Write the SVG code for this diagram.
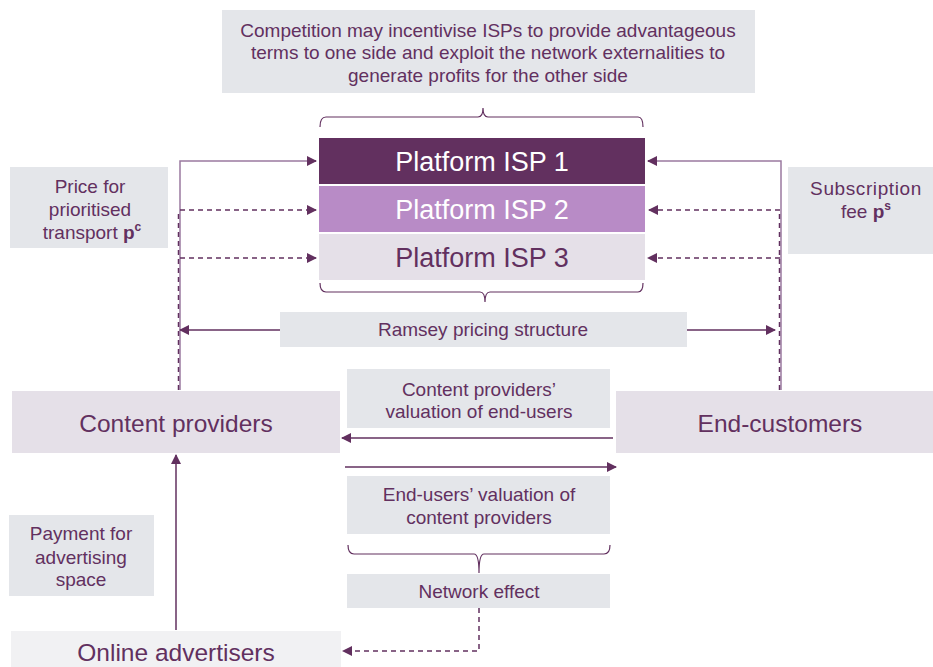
<svg xmlns="http://www.w3.org/2000/svg" width="933" height="667" viewBox="0 0 933 667">
  <defs>
    <marker id="arr" viewBox="0 0 10 10" refX="9" refY="5" markerWidth="10" markerHeight="10" markerUnits="userSpaceOnUse" orient="auto">
      <path d="M0,0 L10,5 L0,10 z" fill="#62305f"/>
    </marker>
    <style>
      text { font-family: "Liberation Sans", Arial, sans-serif; fill: #62305f; text-anchor: middle; }
      .lbl { fill: #e4e6ea; }
      .node { fill: #e5e0e8; }
      .t19 { font-size: 19px; }
      .t24 { font-size: 24.5px; }
      .t27 { font-size: 27px; }
      .line { stroke: #62305f; stroke-width: 1.5; fill: none; }
      .dash { stroke: #62305f; stroke-width: 1.5; stroke-dasharray: 5 4; fill: none; }
      .vline { stroke: #9a7aa0; stroke-width: 1.5; fill: none; }
      .brace { stroke: #62305f; stroke-width: 1.2; fill: none; }
    </style>
  </defs>
  <rect width="933" height="667" fill="#ffffff"/>

  <!-- Competition note -->
  <g id="competition">
    <rect class="lbl" x="222" y="10" width="533" height="83"/>
    <text class="t19" x="488" y="37">Competition may incentivise ISPs to provide advantageous</text>
    <text class="t19" x="488" y="59">terms to one side and exploit the network externalities to</text>
    <text class="t19" x="488" y="82">generate profits for the other side</text>
  </g>

  <!-- Platforms -->
  <g id="isp1">
    <rect x="319" y="138" width="326" height="46" fill="#62305f"/>
    <text class="t27" x="482" y="171" style="fill:#ffffff">Platform ISP 1</text>
  </g>
  <g id="isp2">
    <rect x="319" y="186" width="326" height="46" fill="#b88bc6"/>
    <text class="t27" x="482" y="219" style="fill:#ffffff">Platform ISP 2</text>
  </g>
  <g id="isp3">
    <rect x="319" y="234" width="326" height="46" fill="#e5e0e8"/>
    <text class="t27" x="482" y="267">Platform ISP 3</text>
  </g>

  <!-- Labels -->
  <g id="price-label">
    <rect class="lbl" x="10" y="167" width="158" height="81"/>
    <text class="t19" x="90" y="193">Price for</text>
    <text class="t19" x="90" y="216">prioritised</text>
    <text class="t19" x="92" y="239">transport <tspan font-weight="bold">p</tspan><tspan font-weight="bold" font-size="12" dy="-8">c</tspan></text>
  </g>
  <g id="subscription-label">
    <rect class="lbl" x="788" y="167" width="145" height="87"/>
    <text class="t19" x="866" y="195" letter-spacing="0.6">Subscription</text>
    <text class="t19" x="866" y="218">fee <tspan font-weight="bold">p</tspan><tspan font-weight="bold" font-size="12" dy="-8">s</tspan></text>
  </g>
  <g id="ramsey">
    <rect class="lbl" x="280" y="312" width="407" height="35"/>
    <text class="t19" x="483" y="336">Ramsey pricing structure</text>
  </g>
  <g id="cp-valuation">
    <rect class="lbl" x="347" y="369" width="263" height="59"/>
    <text class="t19" x="479" y="396">Content providers’</text>
    <text class="t19" x="479" y="418">valuation of end-users</text>
  </g>
  <g id="eu-valuation">
    <rect class="lbl" x="347" y="476" width="263" height="58"/>
    <text class="t19" x="479" y="501">End-users’ valuation of</text>
    <text class="t19" x="479" y="524">content providers</text>
  </g>
  <g id="network-effect">
    <rect class="lbl" x="347" y="574" width="263" height="34"/>
    <text class="t19" x="479" y="598">Network effect</text>
  </g>
  <g id="payment-label">
    <rect class="lbl" x="9" y="515" width="145" height="81"/>
    <text class="t19" x="81" y="540">Payment for</text>
    <text class="t19" x="81" y="564">advertising</text>
    <text class="t19" x="81" y="586">space</text>
  </g>

  <!-- Actors -->
  <g id="content-providers">
    <rect class="node" x="12" y="391" width="328" height="62"/>
    <text class="t24" x="176" y="432">Content providers</text>
  </g>
  <g id="end-customers">
    <rect class="node" x="616" y="391" width="317" height="62"/>
    <text class="t24" x="780" y="432">End-customers</text>
  </g>
  <g id="online-advertisers">
    <rect x="11" y="631" width="330" height="36" fill="#f1f1f3"/>
    <text class="t24" x="176" y="661">Online advertisers</text>
  </g>

  <!-- Braces -->
  <g id="braces">
    <path class="brace" d="M320,127 Q320,117 326,117 L478,117 Q483,117 483,108 Q483,117 488,117 L638,117 Q643,117 643,127"/>
    <path class="brace" d="M320,283 Q320,292 326,292 L480,292 Q485,292 485,302 Q485,292 490,292 L638,292 Q643,292 643,283"/>
    <path class="brace" d="M348,545 Q348,554 354,554 L474,554 Q479,554 479,573 Q479,554 484,554 L604,554 Q610,554 610,545"/>
  </g>

  <!-- Connectors -->
  <g id="connectors">
    <!-- left side: content providers to platforms -->
    <path class="vline" d="M180,390 L180,161 L316,161"/>
    <path class="line" d="M308,161 L316,161" marker-end="url(#arr)"/>
    <path class="dash" d="M178.5,390 L178.5,210"/>
    <path class="dash" d="M180,210 L316,210" marker-end="url(#arr)"/>
    <path class="dash" d="M180,258 L316,258" marker-end="url(#arr)"/>

    <!-- right side: end-customers to platforms -->
    <path class="vline" d="M781,390 L781,161 L648,161"/>
    <path class="line" d="M656,161 L648,161" marker-end="url(#arr)"/>
    <path class="dash" d="M779.5,390 L779.5,210"/>
    <path class="dash" d="M780,210 L649,210" marker-end="url(#arr)"/>
    <path class="dash" d="M780,258 L648,258" marker-end="url(#arr)"/>

    <!-- Ramsey pricing to both sides -->
    <path class="line" d="M280,330 L180,330" marker-end="url(#arr)"/>
    <path class="line" d="M687,330 L775,330" marker-end="url(#arr)"/>

    <!-- cross-side valuations -->
    <path class="line" d="M613,438 L342,438" marker-end="url(#arr)"/>
    <path class="line" d="M345,467 L616,467" marker-end="url(#arr)"/>

    <!-- network effect to advertisers -->
    <path class="dash" d="M479,608 L479,651 L343,651" marker-end="url(#arr)"/>

    <!-- advertisers pay content providers -->
    <path class="line" d="M176,630 L176,455" marker-end="url(#arr)"/>
  </g>
</svg>
